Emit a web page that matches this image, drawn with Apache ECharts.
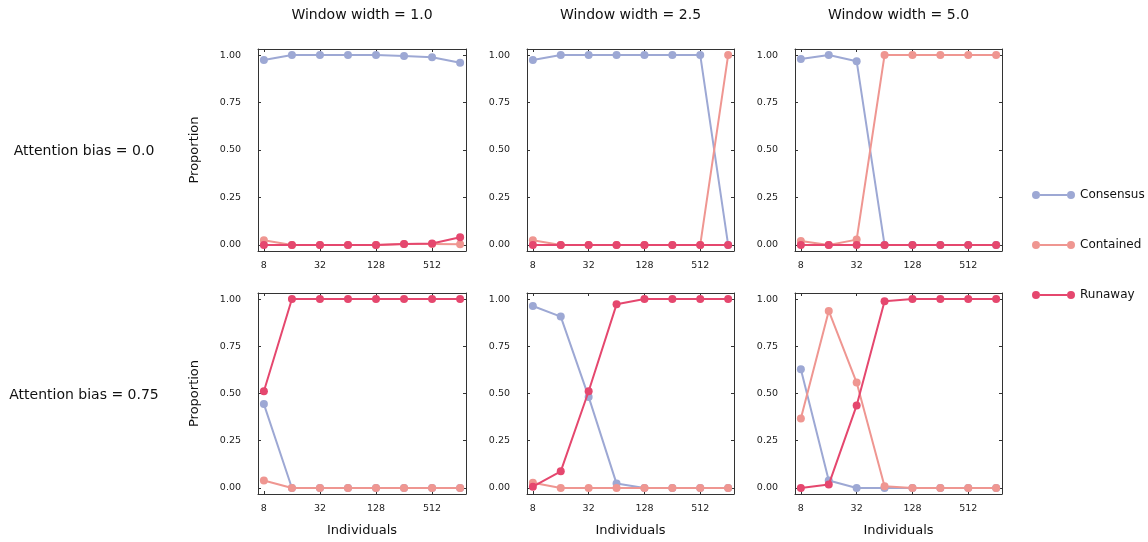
<!DOCTYPE html>
<html>
<head>
<meta charset="utf-8">
<script src="https://cdn.jsdelivr.net/npm/echarts@6/dist/echarts.min.js"></script>
<style>html,body{margin:0;padding:0;background:#fff;}#chart{width:1148px;height:542px;}</style>
</head>
<body>
<div id="chart"></div>
<script>
// ---- data ----
const individuals = [8, 16, 32, 64, 128, 256, 512, 1024];
const xTickLabels = [8, 32, 128, 512];
const yTickLabels = [0, 0.25, 0.5, 0.75, 1.0];
const windowWidths = ['1.0', '2.5', '5.0'];
const attentionBiases = ['0.0', '0.75'];
const outcomeNames = ['Consensus', 'Contained', 'Runaway'];

// Attention bias = 0.0
const consensus_b0_w1 = [0.974, 1.0, 1.0, 1.0, 1.0, 0.995, 0.989, 0.960];
const contained_b0_w1 = [0.025, 0.0, 0.0, 0.0, 0.0, 0.005, 0.005, 0.003];
const runaway_b0_w1   = [0.0, 0.0, 0.0, 0.0, 0.0, 0.005, 0.008, 0.040];

const consensus_b0_w2 = [0.974, 1.0, 1.0, 1.0, 1.0, 1.0, 1.0, 0.0];
const contained_b0_w2 = [0.025, 0.0, 0.0, 0.0, 0.0, 0.0, 0.0, 1.0];
const runaway_b0_w2   = [0.0, 0.0, 0.0, 0.0, 0.0, 0.0, 0.0, 0.0];

const consensus_b0_w3 = [0.979, 1.0, 0.968, 0.0, 0.0, 0.0, 0.0, 0.0];
const contained_b0_w3 = [0.021, 0.0, 0.028, 1.0, 1.0, 1.0, 1.0, 1.0];
const runaway_b0_w3   = [0.0, 0.0, 0.0, 0.0, 0.0, 0.0, 0.0, 0.0];

// Attention bias = 0.75
const consensus_b1_w1 = [0.444, 0.0, 0.0, 0.0, 0.0, 0.0, 0.0, 0.0];
const contained_b1_w1 = [0.039, 0.0, 0.0, 0.0, 0.0, 0.0, 0.0, 0.0];
const runaway_b1_w1   = [0.512, 1.0, 1.0, 1.0, 1.0, 1.0, 1.0, 1.0];

const consensus_b1_w2 = [0.963, 0.907, 0.482, 0.023, 0.0, 0.0, 0.0, 0.0];
const contained_b1_w2 = [0.028, 0.0, 0.0, 0.0, 0.0, 0.0, 0.0, 0.0];
const runaway_b1_w2   = [0.007, 0.088, 0.512, 0.972, 1.0, 1.0, 1.0, 1.0];

const consensus_b1_w3 = [0.628, 0.039, 0.0, 0.0, 0.0, 0.0, 0.0, 0.0];
const contained_b1_w3 = [0.368, 0.937, 0.558, 0.009, 0.0, 0.0, 0.0, 0.0];
const runaway_b1_w3   = [0.0, 0.018, 0.437, 0.988, 1.0, 1.0, 1.0, 1.0];

const panels = [
  [[consensus_b0_w1, contained_b0_w1, runaway_b0_w1],
   [consensus_b0_w2, contained_b0_w2, runaway_b0_w2],
   [consensus_b0_w3, contained_b0_w3, runaway_b0_w3]],
  [[consensus_b1_w1, contained_b1_w1, runaway_b1_w1],
   [consensus_b1_w2, contained_b1_w2, runaway_b1_w2],
   [consensus_b1_w3, contained_b1_w3, runaway_b1_w3]]
];

// ---- layout / style ----
const colors = ['#9da8d4', '#ef9691', '#e5476e'];
const colLeft = [258, 527, 795];
const colWidth = [208, 207, 207];
const rowTop = [49, 293];
const rowHeight = [202, 201];
const FONT = 'DejaVu Sans';
const frameColor = '#333';

const grids = [], xAxes = [], yAxes = [], series = [], graphics = [];
const xTickVals = xTickLabels.map(v => Math.log2(v));
let gi = 0;
for (let r = 0; r < 2; r++) {
  for (let c = 0; c < 3; c++) {
    grids.push({left: colLeft[c], top: rowTop[r], width: colWidth[c], height: rowHeight[r], containLabel: false});
    const xBase = xAxes.length, yBase = yAxes.length;
    xAxes.push({
      type: 'value', gridIndex: gi, position: 'bottom', min: 2.79, max: 10.21,
      axisLine: {show: true, onZero: false, lineStyle: {color: frameColor, width: 1}},
      axisTick: {show: true, inside: true, length: 3, customValues: xTickVals, lineStyle: {color: frameColor}},
      axisLabel: {show: true, customValues: xTickVals, margin: 10, fontFamily: FONT, fontSize: 9.5, color: '#222',
        formatter: v => String(Math.round(Math.pow(2, v)))},
      splitLine: {show: false},
      name: r === 1 ? 'Individuals' : '', nameLocation: 'middle', nameGap: 30,
      nameTextStyle: {fontFamily: FONT, fontSize: 13, color: '#111'}
    });
    xAxes.push({
      type: 'value', gridIndex: gi, position: 'top', min: 2.79, max: 10.21,
      axisLine: {show: true, onZero: false, lineStyle: {color: frameColor, width: 1}},
      axisTick: {show: true, inside: true, length: 3, customValues: xTickVals, lineStyle: {color: frameColor}},
      axisLabel: {show: false}, splitLine: {show: false}
    });
    yAxes.push({
      type: 'value', gridIndex: gi, position: 'left', min: -0.032, max: 1.032,
      axisLine: {show: true, onZero: false, lineStyle: {color: frameColor, width: 1}},
      axisTick: {show: true, inside: true, length: 3, customValues: yTickLabels, lineStyle: {color: frameColor}},
      axisLabel: {show: true, customValues: yTickLabels, margin: 17, fontFamily: FONT, fontSize: 9.5, color: '#222',
        formatter: v => v.toFixed(2)},
      splitLine: {show: false},
      name: c === 0 ? 'Proportion' : '', nameLocation: 'middle', nameGap: 57, nameRotate: 90,
      nameTextStyle: {fontFamily: FONT, fontSize: 13, color: '#111'}
    });
    yAxes.push({
      type: 'value', gridIndex: gi, position: 'right', min: -0.032, max: 1.032,
      axisLine: {show: true, onZero: false, lineStyle: {color: frameColor, width: 1}},
      axisTick: {show: true, inside: true, length: 3, customValues: yTickLabels, lineStyle: {color: frameColor}},
      axisLabel: {show: false}, splitLine: {show: false}
    });
    for (let s = 0; s < 3; s++) {
      series.push({
        type: 'line', name: outcomeNames[s], xAxisIndex: xBase, yAxisIndex: yBase,
        data: individuals.map((n, i) => [Math.log2(n), panels[r][c][s][i]]),
        symbol: 'circle', symbolSize: 8, showSymbol: true,
        lineStyle: {width: 2, color: colors[s]},
        itemStyle: {color: colors[s], borderWidth: 0},
        z: 2 + s, animation: false, silent: true
      });
    }
    gi++;
  }
}
for (let c = 0; c < 3; c++) {
  graphics.push({
    type: 'text', x: colLeft[c] + colWidth[c] / 2, y: 15,
    style: {text: 'Window width = ' + windowWidths[c], fontFamily: FONT, fontSize: 14, fill: '#111',
      textAlign: 'center', textVerticalAlign: 'middle'}
  });
}
for (let r = 0; r < 2; r++) {
  graphics.push({
    type: 'text', x: 84, y: rowTop[r] + rowHeight[r] / 2 + 1.5,
    style: {text: 'Attention bias = ' + attentionBiases[r], fontFamily: FONT, fontSize: 14, fill: '#111',
      textAlign: 'center', textVerticalAlign: 'middle'}
  });
}

const legendIcon = 'path://M0,4A4,4,0,1,0,8,4A4,4,0,1,0,0,4ZM35,4A4,4,0,1,0,43,4A4,4,0,1,0,35,4ZM8,3L35,3L35,5L8,5Z';

const option = {
  backgroundColor: '#fff',
  animation: false,
  color: colors,
  graphic: graphics,
  legend: {
    orient: 'vertical', left: 1027, top: 184, itemWidth: 43, itemHeight: 8, itemGap: 38,
    selectedMode: false,
    data: outcomeNames.map((n, i) => ({name: n, icon: legendIcon,
      itemStyle: {color: colors[i], borderWidth: 0}})),
    textStyle: {fontFamily: FONT, fontSize: 12, color: '#111'}
  },
  grid: grids,
  xAxis: xAxes,
  yAxis: yAxes,
  series: series
};
const chart = echarts.init(document.getElementById('chart'), null, {renderer: 'canvas'});
chart.setOption(option);
</script>
</body>
</html>
